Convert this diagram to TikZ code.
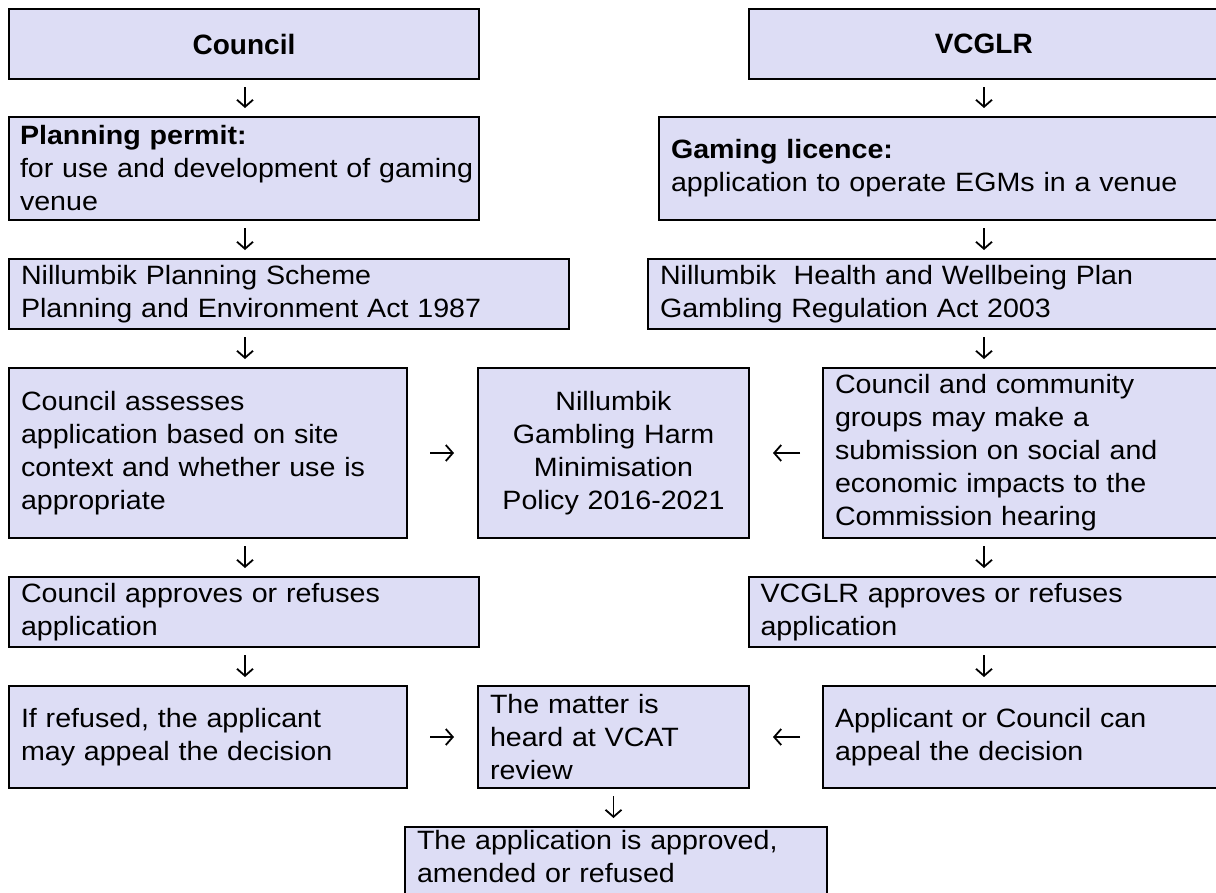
\documentclass[tikz,border=0pt]{standalone}
\usepackage{fontspec}
\setmainfont{Liberation Sans}[FakeStretch=1.08]
\newfontfamily\headfont{Liberation Sans}
\usepackage{tikz}
\usetikzlibrary{arrows.meta}
\definecolor{boxfill}{RGB}{221,221,245}

\begin{document}
\begin{tikzpicture}[x=1pt,y=-1pt,
  stage/.style={draw=black,line width=2pt,fill=boxfill,anchor=north west,outer sep=0pt,
    inner xsep=12pt,inner ysep=0pt,align=left,font=\fontsize{26.5pt}{33pt}\selectfont},
  head/.style={stage,align=center,font=\headfont\fontsize{28pt}{33pt}\selectfont\bfseries},
  flow/.style={-{Straight Barb[length=7pt,width=16pt]},line width=1.8pt,shorten <=8pt,shorten >=9pt},
  side/.style={flow,shorten <=23pt,shorten >=24pt}]

\useasboundingbox (0,0) rectangle (1216,892);
\clip (0,0) rectangle (1216,892);
\fill[white] (0,0) rectangle (1216,892);

% the two columns the down arrows sit on
\coordinate (lcol) at (245,0);
\coordinate (rcol) at (984,0);

% Council side
\node[head,minimum width=470pt,minimum height=70pt] (council) at (9,9) {Council};
\node[stage,inner xsep=11pt,text width=448pt,minimum height=103pt] (permit) at (9,117)
  {\textbf{Planning permit:}\\\mbox{for use and development of gaming}\\venue};
\node[stage,text width=536pt,minimum height=70pt] (scheme) at (9,259)
  {Nillumbik Planning Scheme\\Planning and Environment Act 1987};
\node[stage,text width=374pt,minimum height=170pt] (assess) at (9,368)
  {Council assesses\\application based on site\\context and whether use is\\appropriate};
\node[stage,text width=446pt,minimum height=70pt] (capprove) at (9,577)
  {Council approves or refuses\\application};
\node[stage,text width=374pt,minimum height=102pt] (refused) at (9,686)
  {If refused, the applicant\\may appeal the decision};

% VCGLR side
\node[head,minimum width=470.5pt,minimum height=70pt] (vcglr) at (748.5,9) {VCGLR};
\node[stage,text width=536pt,minimum height=103pt] (licence) at (659,117)
  {\textbf{Gaming licence:}\\application to operate EGMs in a venue};
\node[stage,text width=547pt,minimum height=70pt] (health) at (648,259)
  {Nillumbik\ \ Health and Wellbeing Plan\\Gambling Regulation Act 2003};
\node[stage,text width=372pt,minimum height=170pt] (submit) at (823,368)
  {Council and community\\groups may make a\\submission on social and\\economic impacts to the\\Commission hearing};
\node[stage,text width=446.5pt,minimum height=70pt] (vapprove) at (748.5,577)
  {VCGLR approves or refuses\\application};
\node[stage,text width=372pt,minimum height=102pt] (appeal) at (823,686)
  {Applicant or Council can\\appeal the decision};

% middle
\node[stage,align=center,text width=247pt,minimum height=170pt] (policy) at (478,368)
  {Nillumbik\\Gambling Harm\\Minimisation\\Policy 2016-2021};
\node[stage,text width=247pt,minimum height=102pt] (vcat) at (478,686)
  {The matter is\\heard at VCAT\\review};
\node[stage,text width=398pt,inner ysep=3pt,text depth=80pt] (outcome) at (405,827)
  {The application is approved,\\amended or refused};

% down arrows
\draw[flow] (council.south -| lcol) -- (permit.north -| lcol);
\draw[flow] (permit.south -| lcol) -- (scheme.north -| lcol);
\draw[flow] (scheme.south -| lcol) -- (assess.north -| lcol);
\draw[flow] (assess.south -| lcol) -- (capprove.north -| lcol);
\draw[flow] (capprove.south -| lcol) -- (refused.north -| lcol);

\draw[flow] (vcglr.south -| rcol) -- (licence.north -| rcol);
\draw[flow] (licence.south -| rcol) -- (health.north -| rcol);
\draw[flow] (health.south -| rcol) -- (submit.north -| rcol);
\draw[flow] (submit.south -| rcol) -- (vapprove.north -| rcol);
\draw[flow] (vapprove.south -| rcol) -- (appeal.north -| rcol);

\draw[flow] (vcat.south) -- (vcat.south |- outcome.north);

% side arrows into the middle
\draw[side] (assess) -- (policy);
\draw[side] (submit) -- (policy);
\draw[side] (refused) -- (vcat);
\draw[side] (appeal) -- (vcat);
\end{tikzpicture}
\end{document}
